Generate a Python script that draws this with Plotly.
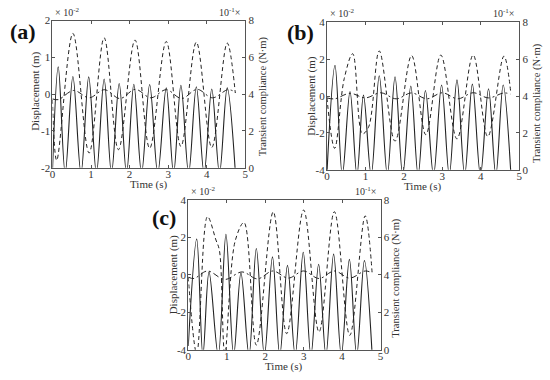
import plotly.graph_objects as go

# ---------------- data ----------------
# Panel (a): displacement axis in units of 1e-2 m
a_solid_t = [0.0, 0.15, 0.33, 0.53, 0.74, 0.94, 1.14, 1.34, 1.53, 1.73, 1.92, 2.11, 2.31,
             2.52, 2.73, 2.95, 3.14, 3.33, 3.53, 3.73, 3.93, 4.13, 4.33, 4.53, 4.74]
a_solid_v = [-2.1, 0.74, -2.15, 0.48, -2.15, 0.47, -2.15, 0.41, -2.15, 0.29, -2.15, 0.27, -2.15,
             0.26, -2.15, 0.17, -2.15, 0.24, -2.15, 0.2, -2.15, 0.14, -2.15, 0.17, -2.1]
a_dash_t = [0.0, 0.11, 0.53, 0.95, 1.34, 1.71, 2.14, 2.52, 2.95, 3.33, 3.73, 4.13, 4.53, 4.74]
a_dash_v = [-0.15, -1.8, 1.65, -1.6, 1.53, -1.51, 1.47, -1.47, 1.43, -1.42, 1.41, -1.45, 1.39, 0.03]
a_dd_t = [0.0, 0.15, 0.55, 0.95, 1.35, 1.75, 2.15, 2.55, 2.95, 3.35, 3.75, 4.15, 4.55, 4.75]
a_dd_v = [-0.13, -0.15, 0.1, -0.1, 0.12, -0.12, 0.13, -0.1, 0.12, -0.12, 0.13, -0.1, 0.12, 0.05]

# Panel (b)
b_solid_t = [0.0, 0.21, 0.4, 0.6, 0.78, 0.95, 1.15, 1.36, 1.57, 1.77, 1.97, 2.18, 2.37,
             2.56, 2.77, 2.98, 3.18, 3.38, 3.58, 3.78, 3.99, 4.2, 4.39, 4.58, 4.78]
b_solid_v = [-4.2, 1.67, -4.3, 0.25, -4.3, 0.05, -4.3, 1.1, -4.3, 1.05, -4.3, 0.55, -4.3,
             0.3, -4.3, 0.6, -4.3, 0.88, -4.3, 0.65, -4.3, 0.4, -4.3, 0.6, -4.2]
b_dash_t = [0.0, 0.2, 0.45, 0.67, 0.92, 1.08, 1.36, 1.77, 2.2, 2.57, 2.96, 3.38, 3.8, 4.18, 4.6, 4.78]
b_dash_v = [-0.1, -2.84, 0.95, 2.3, -2.05, -1.7, 2.45, -2.45, 2.2, -2.1, 2.23, -2.33, 2.23, -2.2, 2.17, 0.16]
b_dd_t = [0.0, 0.2, 0.6, 1.0, 1.4, 1.8, 2.2, 2.6, 3.0, 3.4, 3.8, 4.2, 4.6, 4.78]
b_dd_v = [-0.1, -0.15, 0.15, -0.1, 0.18, -0.15, 0.17, -0.15, 0.18, -0.15, 0.18, -0.1, 0.17, 0.1]

# Panel (c)
c_solid_t = [0.0, 0.22, 0.38, 0.54, 0.78, 0.98, 1.18, 1.37, 1.58, 1.77, 1.98, 2.19, 2.38,
             2.58, 2.78, 2.99, 3.19, 3.39, 3.58, 3.78, 3.98, 4.19, 4.38, 4.58, 4.78]
c_solid_v = [-3.8, 1.9, -4.3, 0.15, -4.3, 2.15, -4.3, 0.1, -4.3, 1.4, -4.3, 0.95, -4.3,
             0.5, -4.3, 1.2, -4.3, 0.56, -4.3, 1.1, -4.3, 0.82, -4.3, 0.75, -4.2]
c_dash_t = [0.0, 0.22, 0.5, 0.72, 0.81, 0.95, 1.22, 1.45, 1.77, 2.21, 2.56, 3.0, 3.4, 3.8, 4.2, 4.6, 4.78]
c_dash_v = [-0.13, -4.2, 3.1, 1.85, 1.3, -4.2, 1.8, 2.78, -3.75, 3.35, -3.14, 3.45, -3.05, 3.36, -3.23, 3.14, 0.13]
c_dd_t = [0.0, 0.15, 0.5, 0.95, 1.4, 1.8, 2.2, 2.6, 3.0, 3.4, 3.8, 4.2, 4.6, 4.78]
c_dd_v = [-0.13, -0.2, 0.2, -0.25, 0.15, -0.22, 0.2, -0.18, 0.2, -0.2, 0.2, -0.18, 0.2, 0.1]

x_ticks = [0, 1, 2, 3, 4, 5]
a_left_ticks = [-2, -1, 0, 1, 2]
bc_left_ticks = [-4, -2, 0, 2, 4]
right_ticks = [0, 2, 4, 6, 8]

panels = [
    dict(label="(a)", solid=(a_solid_t, a_solid_v), dash=(a_dash_t, a_dash_v), dd=(a_dd_t, a_dd_v),
         lticks=a_left_ticks, xpx=(50, 245), ypx=(15, 167), ylab=(33, 88), rlab=(263, 93), lab=(20, 26)),
    dict(label="(b)", solid=(b_solid_t, b_solid_v), dash=(b_dash_t, b_dash_v), dd=(b_dd_t, b_dd_v),
         lticks=bc_left_ticks, xpx=(327.5, 522), ypx=(17, 169), ylab=(311, 93), rlab=(540, 100), lab=(301, 27)),
    dict(label="(c)", solid=(c_solid_t, c_solid_v), dash=(c_dash_t, c_dash_v), dd=(c_dd_t, c_dd_v),
         lticks=bc_left_ticks, xpx=(187.3, 381.7), ypx=(200, 355), ylab=(172, 278), rlab=(397, 281), lab=(163, 218)),
]

W, H = 550, 380
FONT = "Liberation Serif"
LC = "#222222"
AX = "#555555"
TF = dict(size=11, family=FONT, color="#333")

fig = go.Figure()
layout = dict(width=W, height=H, margin=dict(l=0, r=0, t=0, b=0),
              paper_bgcolor="white", plot_bgcolor="white", showlegend=False,
              font=dict(family=FONT, size=11, color="#333"))
annotations = []

for i, p in enumerate(panels):
    xn = "" if i == 0 else str(i + 1)
    yl = str(2 * i + 1) if i > 0 else ""
    yr = str(2 * i + 2)
    xd = [p["xpx"][0] / W, p["xpx"][1] / W]
    yd = [1 - p["ypx"][1] / H, 1 - p["ypx"][0] / H]
    lmin, lmax = p["lticks"][0], p["lticks"][-1]

    layout["xaxis" + xn] = dict(domain=xd, range=[0, 5], anchor="y" + yl, tickvals=x_ticks,
                                ticks="inside", ticklen=3, tickcolor=AX, showline=True,
                                linecolor=AX, linewidth=1, mirror="ticks", showgrid=False,
                                zeroline=False, tickfont=TF, ticklabelstandoff=-4)
    layout["yaxis" + yl] = dict(domain=yd, range=[lmin, lmax], anchor="x" + xn, tickvals=p["lticks"],
                                ticktext=[str(v) for v in p["lticks"]],
                                ticks="inside", ticklen=3, tickcolor=AX, showline=True,
                                linecolor=AX, linewidth=1, showgrid=False, zeroline=False,
                                tickfont=TF, ticklabelstandoff=-1)
    layout["yaxis" + yr] = dict(domain=yd, range=[0, 8], anchor="x" + xn, overlaying="y" + yl,
                                side="right", tickvals=right_ticks, ticks="inside", ticklen=3,
                                tickcolor=AX, showline=True, linecolor=AX, linewidth=1,
                                showgrid=False, zeroline=False, tickfont=TF)

    fig.add_trace(go.Scatter(x=p["solid"][0], y=p["solid"][1], mode="lines",
                             line=dict(color=LC, width=1.1, shape="spline", smoothing=1.0),
                             xaxis="x" + xn, yaxis="y" + yl))
    fig.add_trace(go.Scatter(x=p["dash"][0], y=p["dash"][1], mode="lines",
                             line=dict(color=LC, width=1, dash="4px,3px", shape="spline", smoothing=1.0),
                             xaxis="x" + xn, yaxis="y" + yl))
    fig.add_trace(go.Scatter(x=p["dd"][0], y=p["dd"][1], mode="lines",
                             line=dict(color=LC, width=1, dash="6px,3px,2px,3px", shape="spline", smoothing=1.0),
                             xaxis="x" + xn, yaxis="y" + yl))
    # invisible trace to activate the right axis
    fig.add_trace(go.Scatter(x=[0], y=[0], mode="markers", marker=dict(opacity=0),
                             xaxis="x" + xn, yaxis="y" + yr, hoverinfo="skip"))

    x0, x1 = p["xpx"]
    y0, y1 = p["ypx"]
    annotations += [
        dict(text="Displacement (m)", x=p["ylab"][0] / W, y=1 - p["ylab"][1] / H, xref="paper", yref="paper",
             textangle=-90, showarrow=False, font=dict(size=11, family=FONT, color="#333"),
             xanchor="center", yanchor="middle"),
        dict(text="Transient compliance (N·m)", x=p["rlab"][0] / W, y=1 - p["rlab"][1] / H, xref="paper",
             yref="paper", textangle=-90, showarrow=False,
             font=dict(size=10.5, family=FONT, color="#333"), xanchor="center", yanchor="middle"),
        dict(text="Time (s)", x=(x0 + x1) / 2 / W, y=1 - (y1 + 17) / H, xref="paper", yref="paper",
             showarrow=False, font=dict(size=11, family=FONT, color="#333"),
             xanchor="center", yanchor="middle"),
        dict(text="× 10<sup>-2</sup>", x=(x0 + 1) / W, y=1 - (y0 - 1) / H, xref="paper", yref="paper",
             showarrow=False, font=dict(size=10, family=FONT, color="#333"),
             xanchor="left", yanchor="bottom"),
        dict(text="10<sup>-1</sup>×", x=(x1 - 3) / W, y=1 - (y0 - 1) / H, xref="paper", yref="paper",
             showarrow=False, font=dict(size=10, family=FONT, color="#333"),
             xanchor="right", yanchor="bottom"),
        dict(text="<b>" + p["label"] + "</b>", x=p["lab"][0] / W, y=1 - p["lab"][1] / H,
             xref="paper", yref="paper", showarrow=False,
             font=dict(size=22, family=FONT, color="#111"), xanchor="center", yanchor="middle"),
    ]

layout["annotations"] = annotations
fig.update_layout(**layout)
fig.write_html("out.html", config={"displayModeBar": False},
               post_script="document.body.style.margin='0';document.body.style.overflow='hidden';")
